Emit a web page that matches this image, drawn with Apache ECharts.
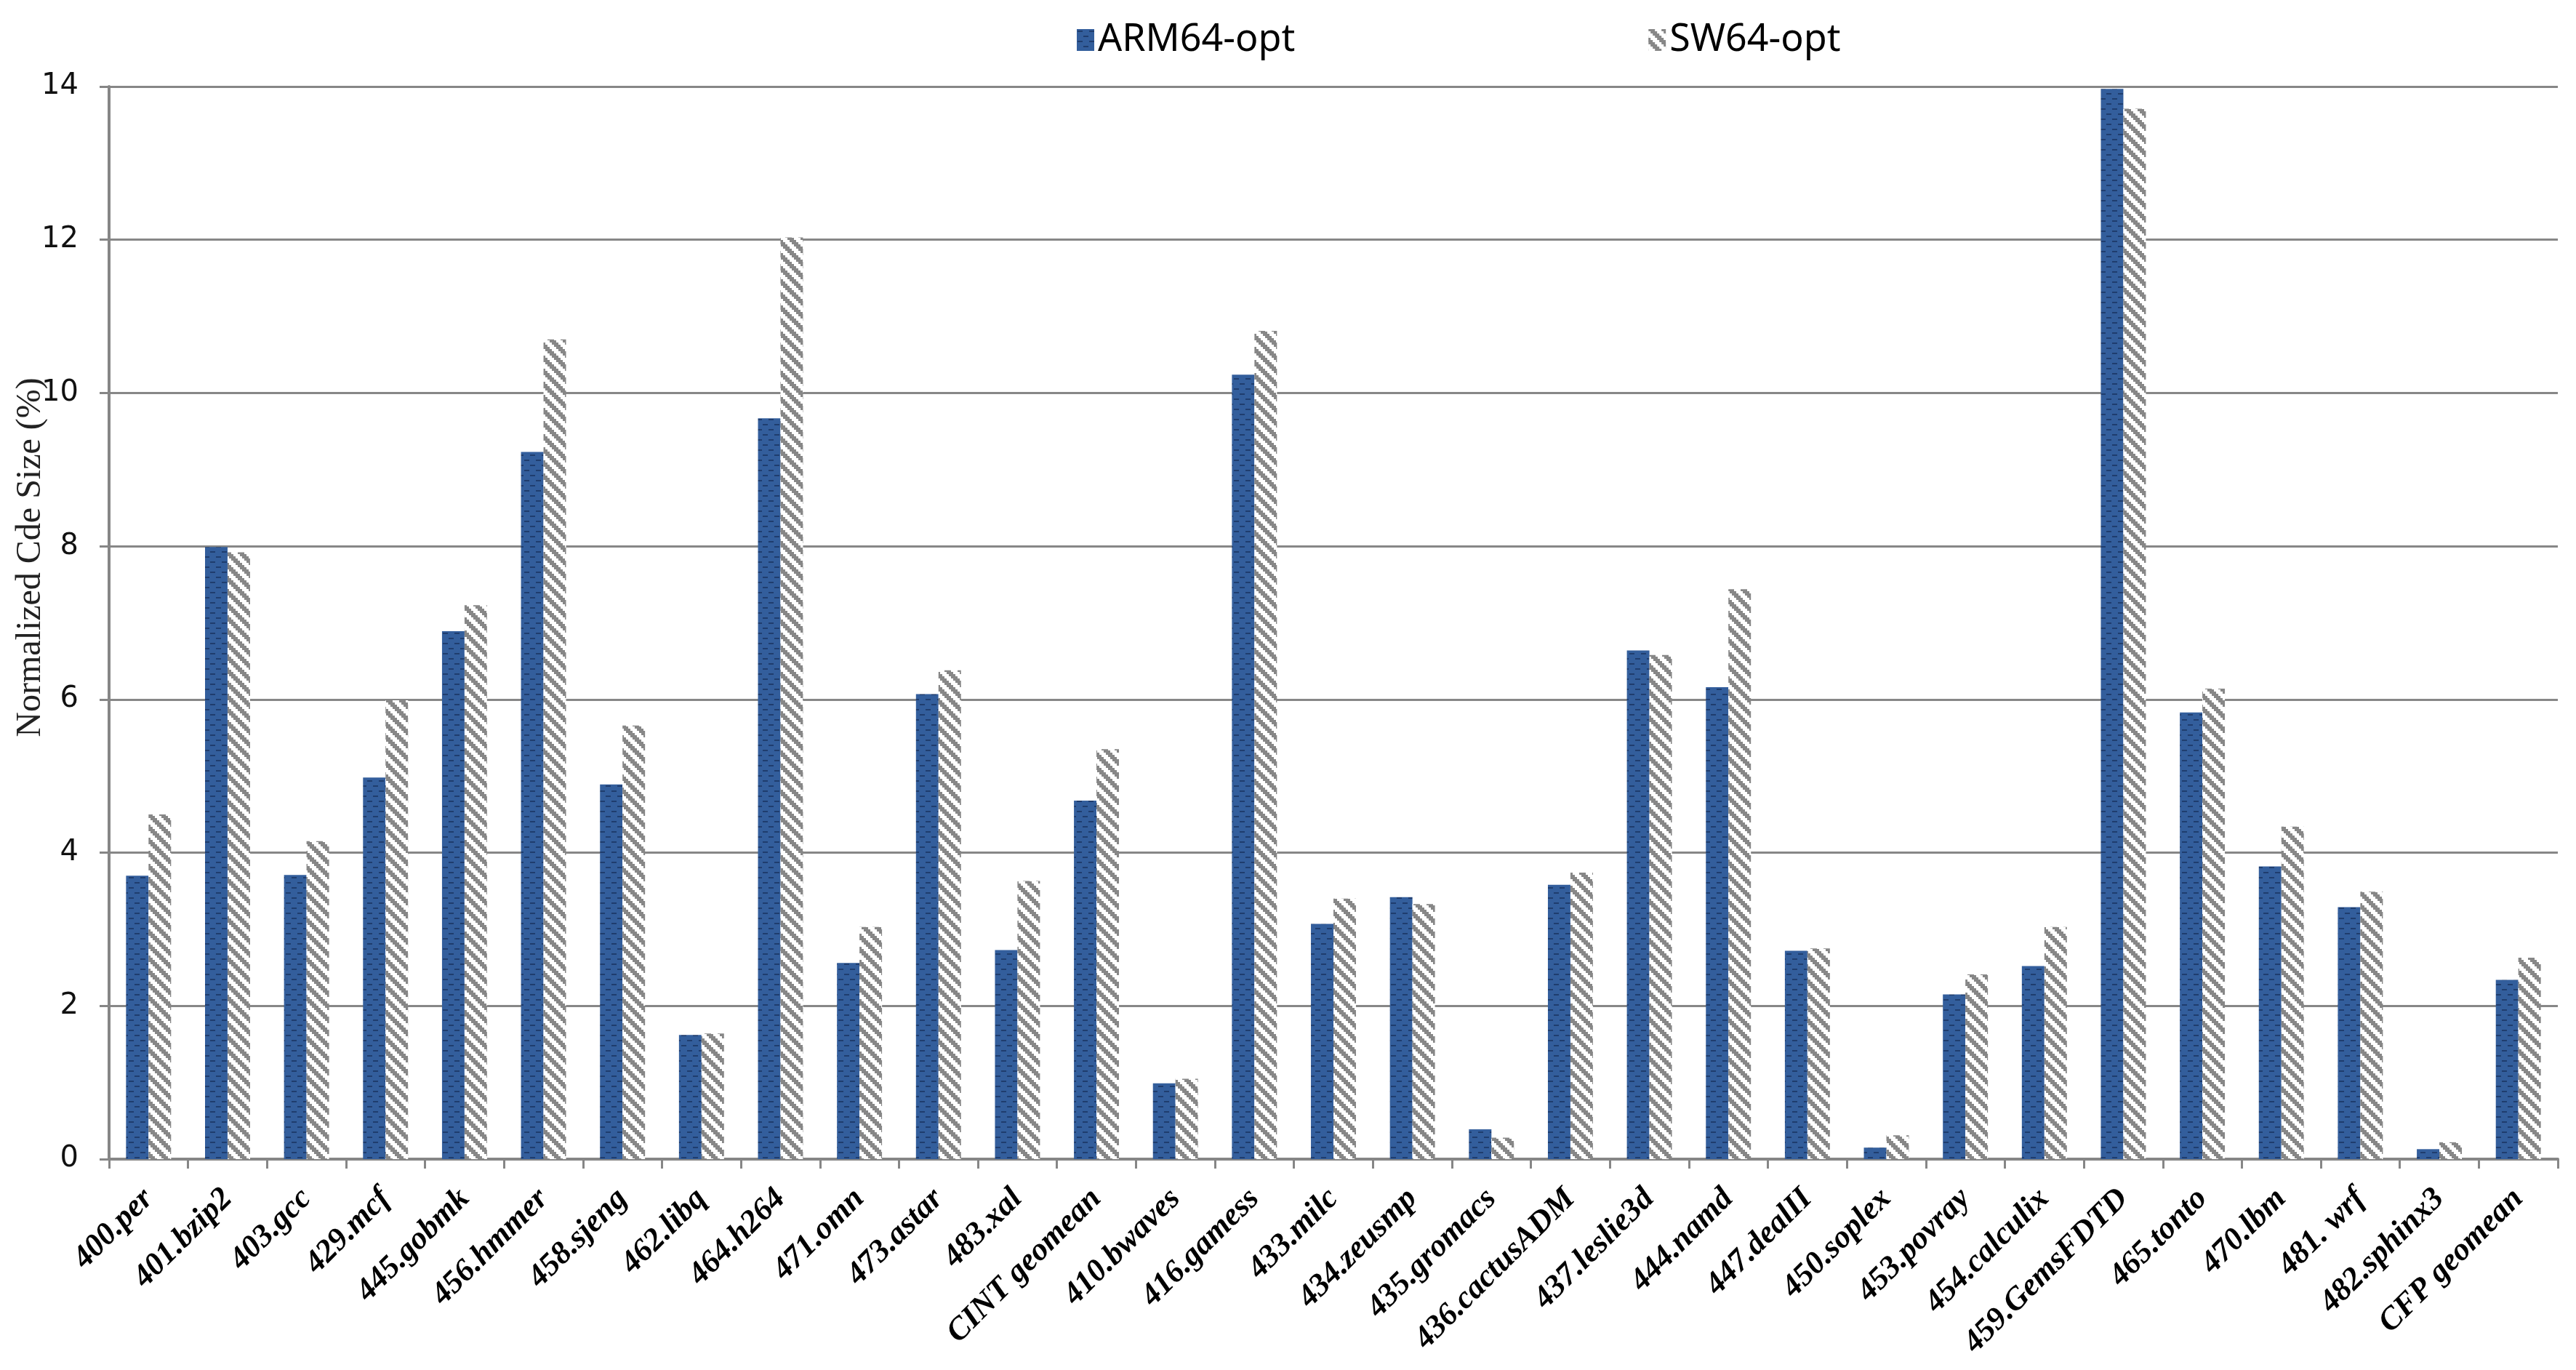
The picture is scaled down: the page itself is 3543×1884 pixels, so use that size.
<!DOCTYPE html>
<html>
<head>
<meta charset="utf-8">
<script src="https://cdn.jsdelivr.net/npm/echarts@6/dist/echarts.min.js"></script>
<style>
  html, body { margin: 0; padding: 0; background: #ffffff; }
  #chart { width: 3543px; height: 1884px; }
</style>
</head>
<body>
<div id="chart"></div>
<script>
const categories = [
  "400.per", "401.bzip2", "403.gcc", "429.mcf", "445.gobmk", "456.hmmer", "458.sjeng",
  "462.libq", "464.h264", "471.omn", "473.astar", "483.xal", "CINT geomean", "410.bwaves",
  "416.gamess", "433.milc", "434.zeusmp", "435.gromacs", "436.cactusADM", "437.leslie3d",
  "444.namd", "447.dealII", "450.soplex", "453.povray", "454.calculix", "459.GemsFDTD",
  "465.tonto", "470.lbm", "481. wrf", "482.sphinx3", "CFP geomean"
];
const arm64Opt = [
  3.70, 7.99, 3.71, 4.98, 6.89, 9.23, 4.89,
  1.62, 9.67, 2.56, 6.07, 2.73, 4.68, 0.99,
  10.24, 3.07, 3.42, 0.39, 3.58, 6.64,
  6.16, 2.72, 0.15, 2.15, 2.52, 13.97,
  5.83, 3.82, 3.29, 0.13, 2.34
];
const sw64Opt = [
  4.50, 7.92, 4.15, 5.99, 7.23, 10.70, 5.66,
  1.64, 12.03, 3.03, 6.38, 3.63, 5.35, 1.05,
  10.81, 3.40, 3.33, 0.28, 3.74, 6.58,
  7.44, 2.75, 0.31, 2.41, 3.03, 13.71,
  6.14, 4.34, 3.49, 0.22, 2.63
];
const seriesNames = ["ARM64-opt", "SW64-opt"];
const yTickValues = { min: 0, max: 14, interval: 2 };

function armPattern() {
  const c = document.createElement('canvas');
  c.width = 16; c.height = 14;
  const g = c.getContext('2d');
  g.fillStyle = '#335e9c';
  g.fillRect(0, 0, 16, 14);
  g.fillStyle = '#1f3d6e';
  g.fillRect(1, 2, 7, 2);
  g.fillRect(9, 9, 7, 2);
  return c;
}
function swPattern() {
  const c = document.createElement('canvas');
  const n = 18, cell = 3;
  c.width = n; c.height = n;
  const g = c.getContext('2d');
  g.fillStyle = '#ffffff';
  g.fillRect(0, 0, n, n);
  g.fillStyle = '#878787';
  for (let y = 0; y < n; y += cell) {
    for (let x = 0; x < n; x += cell) {
      const d = ((x - y) % n + n) % n;
      if (d < 9) g.fillRect(x, y, cell, cell);
    }
  }
  return c;
}

const chart = echarts.init(document.getElementById('chart'), null, { renderer: 'canvas' });
const option = {
  backgroundColor: '#ffffff',
  animation: false,
  legend: {
    data: seriesNames,
    left: 1476,
    top: 24,
    itemWidth: 24,
    itemHeight: 30,
    itemGap: 486,
    icon: 'rect',
    textStyle: { fontFamily: 'Noto Sans', fontSize: 52, color: '#000000' }
  },
  grid: {
    left: 150, right: 25, top: 119, bottom: 290,
    containLabel: false,
    outerBoundsMode: 'none'
  },
  xAxis: {
    type: 'category',
    data: categories,
    boundaryGap: true,
    axisLine: { show: true, lineStyle: { color: '#868686', width: 4 } },
    axisTick: { show: true, length: 13, lineStyle: { color: '#868686', width: 3 } },
    axisLabel: {
      interval: 0,
      rotate: 45,
      margin: 48,
      fontFamily: 'Liberation Serif',
      fontStyle: 'italic',
      fontWeight: 'bold',
      fontSize: 44,
      color: '#000000'
    }
  },
  yAxis: {
    type: 'value',
    min: yTickValues.min,
    max: yTickValues.max,
    interval: yTickValues.interval,
    name: 'Normalized Cde Size (%)',
    nameLocation: 'middle',
    nameGap: 84,
    nameMoveOverlap: false,
    nameTextStyle: {
      fontFamily: 'Liberation Serif',
      fontSize: 48,
      color: '#222222',
      padding: [0, 0, 0, 180]
    },
    axisLine: { show: true, lineStyle: { color: '#868686', width: 4 } },
    axisTick: { show: true, length: 13, lineStyle: { color: '#868686', width: 3 } },
    axisLabel: { margin: 42, fontFamily: 'DejaVu Sans', fontSize: 40, color: '#111111' },
    splitLine: { show: true, lineStyle: { color: '#878787', width: 3 } }
  },
  series: [
    {
      name: seriesNames[0],
      type: 'bar',
      data: arm64Opt,
      barGap: '0%',
      barCategoryGap: '43%',
      itemStyle: { color: { image: armPattern(), repeat: 'repeat' } }
    },
    {
      name: seriesNames[1],
      type: 'bar',
      data: sw64Opt,
      barGap: '0%',
      barCategoryGap: '43%',
      itemStyle: { color: { image: swPattern(), repeat: 'repeat' } }
    }
  ]
};
chart.setOption(option);
</script>
</body>
</html>
